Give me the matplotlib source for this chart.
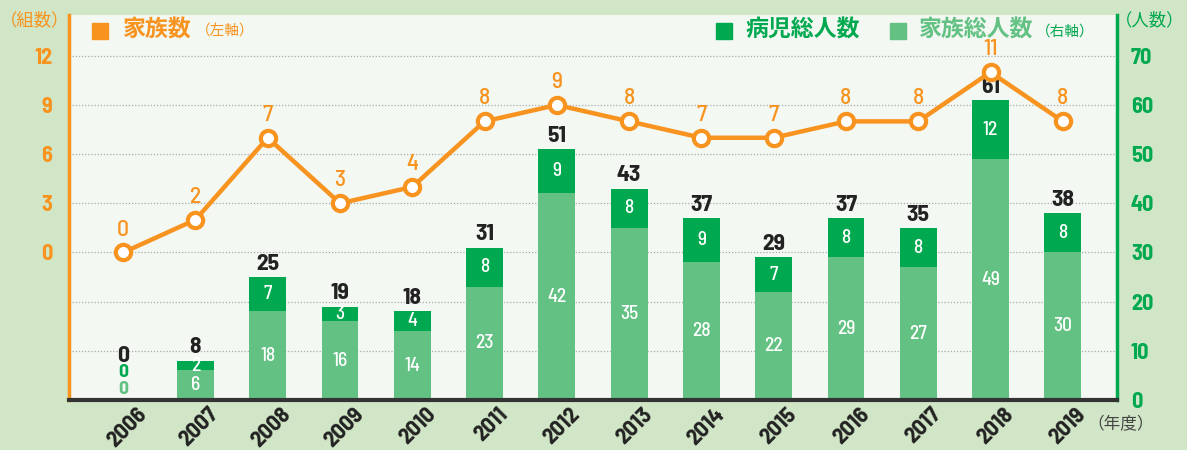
import matplotlib
matplotlib.use("Agg")
import matplotlib.pyplot as plt
import matplotlib.transforms as mt
from matplotlib import font_manager as fm
import numpy as np

years = ["2006", "2007", "2008", "2009", "2010", "2011", "2012",
         "2013", "2014", "2015", "2016", "2017", "2018", "2019"]
families = [0, 2, 7, 3, 4, 8, 9, 8, 7, 7, 8, 8, 11, 8]
family_members = [0, 6, 18, 16, 14, 23, 42, 35, 28, 22, 29, 27, 49, 30]
sick_children = [0, 2, 7, 3, 4, 8, 9, 8, 9, 7, 8, 8, 12, 8]
totals = [0, 8, 25, 19, 18, 31, 51, 43, 37, 29, 37, 35, 61, 38]
left_ticks = [0, 3, 6, 9, 12]
right_ticks = [0, 10, 20, 30, 40, 50, 60, 70]

ORANGE = "#f7931e"
DKGREEN = "#00a84f"
LTGREEN = "#63c183"
BG = "#d1e6c6"
PLOTBG = "#f3f8f2"
DARK = "#222222"

names = {f.name for f in fm.fontManager.ttflist}
NUM = "DejaVu Sans"
for cand in ["Barlow Semi Condensed", "Roboto Condensed", "Archivo Narrow",
             "PT Sans Narrow", "Liberation Sans Narrow", "Saira Semi Condensed",
             "Barlow Condensed"]:
    if cand in names:
        NUM = cand
        break
JP = ["Noto Sans CJK JP", "DejaVu Sans"]

W, H = 1187, 450
fig = plt.figure(figsize=(W / 100, H / 100), dpi=100, facecolor=BG)
L, R, T, B = 69, 1117, 15, 400
ax = fig.add_axes([L / W, 1 - B / H, (R - L) / W, (B - T) / H])
ax.set_facecolor(PLOTBG)

x = np.arange(len(years))
ax.bar(x, family_members, width=0.51, color=LTGREEN, zorder=2)
ax.bar(x, sick_children, width=0.51, bottom=family_members, color=DKGREEN, zorder=2)
ax.set_xlim(-0.75, len(years) - 0.25)
ax.set_ylim(0, 78.3)
for v in right_ticks[1:]:
    ax.axhline(v, color="#aaaaaa", lw=0.9, ls=(0, (1, 1.5)), zorder=1)

ax.set_xticks(x)
ax.set_xticklabels(years, rotation=45, ha="right", va="center", rotation_mode="anchor",
                   fontfamily=NUM, fontweight="bold", fontsize=16.5, color=DARK)
ax.tick_params(axis="x", length=0, pad=8)
off = mt.ScaledTranslation(20 / 100, 0, fig.dpi_scale_trans)
for lab in ax.get_xticklabels():
    lab.set_transform(lab.get_transform() + off)

ax.spines["top"].set_visible(False)
ax.spines["left"].set_color(ORANGE)
ax.spines["left"].set_linewidth(2.5)
ax.spines["right"].set_color(DKGREEN)
ax.spines["right"].set_linewidth(2.5)
ax.spines["bottom"].set_color("#333333")
ax.spines["bottom"].set_linewidth(3)

# bar labels
for i in range(len(years)):
    fm_v, sc_v, tot = family_members[i], sick_children[i], totals[i]
    if tot == 0:
        ax.annotate("0", (i, 0), xytext=(0, 7.5), textcoords="offset points", ha="center",
                    va="center", color=LTGREEN, fontsize=14, fontfamily=NUM, fontweight="bold")
        ax.annotate("0", (i, 0), xytext=(0, 19.5), textcoords="offset points", ha="center",
                    va="center", color=DKGREEN, fontsize=14, fontfamily=NUM, fontweight="bold")
        ax.annotate("0", (i, 0), xytext=(0, 32), textcoords="offset points", ha="center",
                    va="center", color=DARK, fontsize=17, fontfamily=NUM, fontweight="bold")
        continue
    ax.text(i, fm_v / 2, str(fm_v), ha="center", va="center", color="white",
            fontsize=14, fontfamily=NUM, fontweight="medium", zorder=3)
    ax.text(i, fm_v + sc_v / 2, str(sc_v), ha="center", va="center", color="white",
            fontsize=14, fontfamily=NUM, fontweight="medium", zorder=3)
    ax.annotate(str(tot), (i, tot), xytext=(0, 9.5), textcoords="offset points",
                ha="center", va="center", color=DARK, fontsize=17, fontfamily=NUM,
                fontweight="bold", zorder=3)

# line on left axis
ax2 = ax.twinx()
ax2.set_ylim(-9, 14.49)
ax2.set_xlim(-0.75, len(years) - 0.25)
for s in ax2.spines.values():
    s.set_visible(False)
ax2.plot(x, families, color=ORANGE, lw=3.2, marker="o", markersize=11,
         markerfacecolor="white", markeredgecolor=ORANGE, markeredgewidth=3, zorder=5)
for i, v in enumerate(families):
    ax2.annotate(str(v), (i, v), xytext=(0, 16.5), textcoords="offset points",
                 ha="center", va="center", color=ORANGE, fontsize=17, fontfamily=NUM,
                 fontweight="medium")

# axis ticks (after twinx so sides stick)
ax.yaxis.tick_right()
ax.set_yticks(right_ticks)
ax.tick_params(axis="y", length=0, pad=10, labelcolor=DKGREEN, labelsize=16)
for lab in ax.get_yticklabels():
    lab.set_fontfamily(NUM)
    lab.set_fontweight("bold")
ax2.yaxis.tick_left()
ax2.set_yticks(left_ticks)
ax2.tick_params(axis="y", length=0, pad=12, labelcolor=ORANGE, labelsize=16)
for lab in ax2.get_yticklabels():
    lab.set_fontfamily(NUM)
    lab.set_fontweight("bold")


def fx(px):
    return px / W


def fy(py):
    return 1 - py / H


# legend
fig.patches.append(plt.Rectangle((fx(92), fy(39)), 16 / W, 16 / H, transform=fig.transFigure,
                                 color=ORANGE, figure=fig))
fig.text(fx(123), fy(30), "家族数", family=JP, fontsize=16.5, fontweight="bold",
         color=ORANGE, va="center")
fig.text(fx(196), fy(32), "（左軸）", family=JP, fontsize=10.5, color=ORANGE, va="center")
fig.patches.append(plt.Rectangle((fx(716), fy(39)), 16 / W, 16 / H, transform=fig.transFigure,
                                 color=DKGREEN, figure=fig))
fig.text(fx(745), fy(30), "病児総人数", family=JP, fontsize=16.5, fontweight="bold",
         color=DKGREEN, va="center")
fig.patches.append(plt.Rectangle((fx(890), fy(39)), 16 / W, 16 / H, transform=fig.transFigure,
                                 color=LTGREEN, figure=fig))
fig.text(fx(919), fy(30), "家族総人数", family=JP, fontsize=16.5, fontweight="bold",
         color=LTGREEN, va="center")
fig.text(fx(1036), fy(32), "（右軸）", family=JP, fontsize=10.5, color=DKGREEN, va="center")

fig.text(fx(0), fy(20), "（組数）", family=JP, fontsize=12.5, color=ORANGE, va="center")
fig.text(fx(1184), fy(20), "（人数）", family=JP, fontsize=12.5, color=DKGREEN,
         va="center", ha="right")
fig.text(fx(1087), fy(425), "（年度）", family=JP, fontsize=12, color="#444444", va="center")

fig.savefig("out.png", dpi=100, facecolor=BG)
